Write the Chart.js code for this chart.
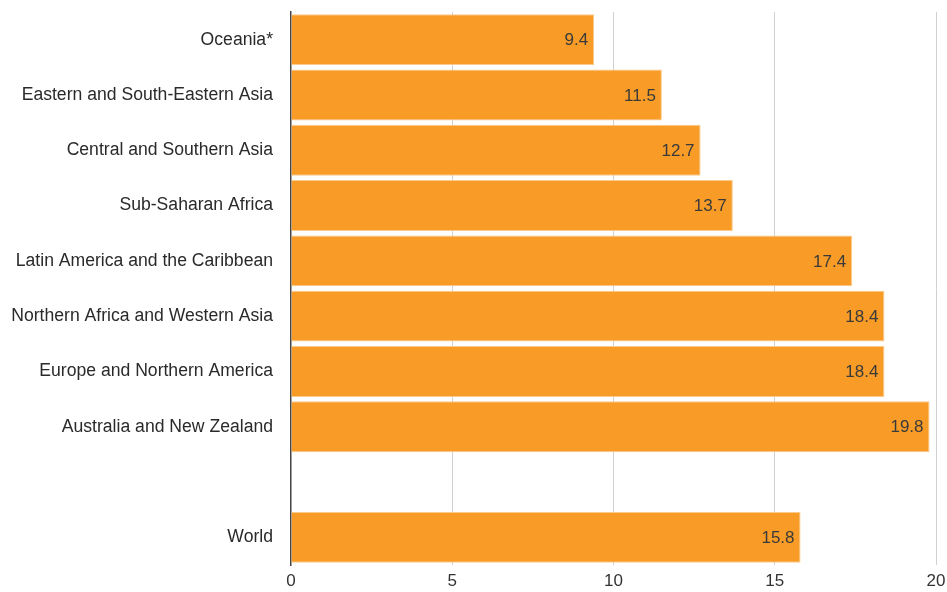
<!DOCTYPE html>
<html>
<head>
  <meta charset="utf-8" />
  <title>Regions</title>
  <script src="https://cdn.jsdelivr.net/npm/chart.js"></script>
  <style>
    html, body { margin: 0; padding: 0; background: #fff; }
    #wrap { width: 947px; height: 592px; }
  </style>
</head>
<body>
  <div id="wrap"><canvas id="chart"></canvas></div>
  <script>
  const regions = [
    'Oceania*',
    'Eastern and South-Eastern Asia',
    'Central and Southern Asia',
    'Sub-Saharan Africa',
    'Latin America and the Caribbean',
    'Northern Africa and Western Asia',
    'Europe and Northern America',
    'Australia and New Zealand',
    '',
    'World'
  ];
  const values = [9.4, 11.5, 12.7, 13.7, 17.4, 18.4, 18.4, 19.8, null, 15.8];
  const xTicks = [0, 5, 10, 15, 20];

  const FONT = '"Liberation Sans", Arial, sans-serif';

  // value labels drawn inside the end of each bar
  const barLabels = {
    id: 'barLabels',
    afterDatasetsDraw(chart) {
      const ctx = chart.ctx;
      const meta = chart.getDatasetMeta(0);
      ctx.save();
      ctx.font = '17px ' + FONT;
      ctx.fillStyle = '#3a3a3a';
      ctx.textAlign = 'right';
      ctx.textBaseline = 'middle';
      meta.data.forEach((bar, i) => {
        if (values[i] == null) return;
        ctx.fillText(values[i].toFixed(1), bar.x - 6, bar.y + 1);
      });
      ctx.restore();
    }
  };

  new Chart(document.getElementById('chart').getContext('2d'), {
    type: 'bar',
    data: {
      labels: regions,
      datasets: [{
        data: values,
        backgroundColor: '#F89C27',
        borderColor: '#FBC98A',
        borderWidth: 1,
        barPercentage: 0.92,
        categoryPercentage: 1
      }]
    },
    options: {
      indexAxis: 'y',
      responsive: true,
      maintainAspectRatio: false,
      animation: false,
      layout: { padding: { top: 12, right: 11, left: 0, bottom: 0 } },
      plugins: { legend: { display: false }, tooltip: { enabled: false } },
      scales: {
        x: {
          min: 0,
          max: 20,
          afterBuildTicks: s => { s.ticks = xTicks.map(v => ({ value: v })); },
          afterFit: s => { s.paddingLeft = 0; s.paddingRight = 0; s.height = 27; },
          grid: {
            color: ctx => ctx.tick && ctx.tick.value === 0 ? 'rgba(0,0,0,0)' : '#d0d0d0',
            drawTicks: false
          },
          border: { display: false },
          ticks: { color: '#333', font: { size: 17, family: FONT }, padding: 6 }
        },
        y: {
          afterFit: s => { s.width = 291; s.paddingTop = 0; s.paddingBottom = 0; },
          grid: { display: false, drawTicks: false },
          border: { display: true, color: '#444', width: 1.5 },
          ticks: { color: '#2a2a2a', font: { size: 17.6, family: FONT }, padding: 18 }
        }
      }
    },
    plugins: [barLabels]
  });
  </script>
</body>
</html>
